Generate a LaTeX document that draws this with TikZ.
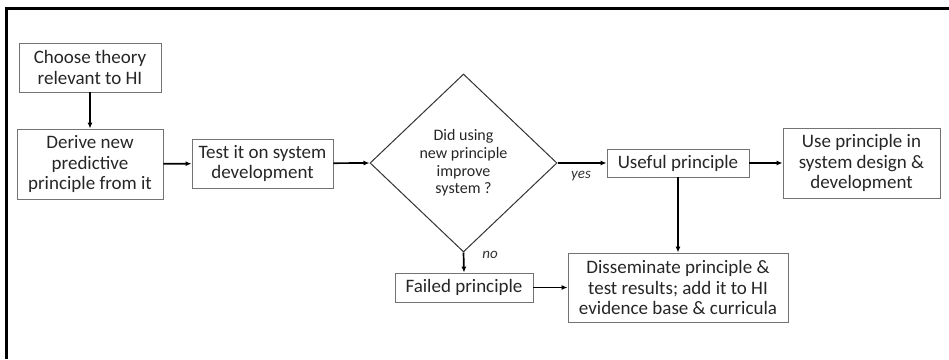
\documentclass[tikz,border=0pt]{standalone}
\usepackage{fontspec}
\setmainfont{Carlito}
\usetikzlibrary{shapes.geometric,arrows.meta}
\begin{document}
\begin{tikzpicture}[x=1pt,y=-1pt,
  box/.style={draw=black!55,line width=0.9pt,align=center,font=\fontsize{19}{20.5}\selectfont,inner sep=0pt,text=black!85},
  conn/.style={-{Latex[length=6pt,width=5pt]},line width=1.7pt,black},
  lab/.style={font=\itshape\fontsize{15}{17}\selectfont,text=black!80}]
\useasboundingbox (0,0) rectangle (949,359);
\draw[line width=3pt] (6,359) -- (6,8) -- (949,8);
\node[box,minimum width=142pt,minimum height=49pt] (choose) at (90,67.5) {Choose theory\\relevant to HI};
\node[box,minimum width=146pt,minimum height=70pt] (derive) at (90,164) {Derive new\\predictive\\principle from it};
\node[box,minimum width=141pt,minimum height=49pt] (test) at (262.5,163.5) {Test it on system\\development};
\node[diamond,draw=black!80,line width=1pt,minimum width=187pt,minimum height=178pt,aspect=1.05,inner sep=0pt,align=center,font=\fontsize{16}{17.7}\selectfont,text=black!85] (dec) at (463.5,163) {Did using\\new principle\\improve\\system ?};
\node[box,minimum width=142pt,minimum height=28pt] (useful) at (678,163) {Useful principle};
\node[box,minimum width=157pt,minimum height=70pt] (use) at (861.5,163) {Use principle in\\system design \&\\development};
\node[box,minimum width=138pt,minimum height=29pt] (failed) at (464,287.5) {Failed principle};
\node[box,minimum width=220pt,minimum height=69pt] (diss) at (678,287.5) {Disseminate principle \&\\test results; add it to HI\\evidence base \& curricula};
\draw[conn] (choose) -- (derive);
\draw[conn] (derive) -- (test);
\draw[conn] (test) -- (dec.west);
\draw[conn] (dec.east) -- (useful);
\draw[conn] (useful) -- (use);
\draw[conn] (useful.south -| diss.north) -- (diss.north);
\draw[conn] (dec.south) -- (failed.north);
\draw[conn] (failed) -- (diss);
\node[lab] (yes) at (581,176) {yes};
\node[lab] (no) at (490,255) {no};
\end{tikzpicture}
\end{document}
